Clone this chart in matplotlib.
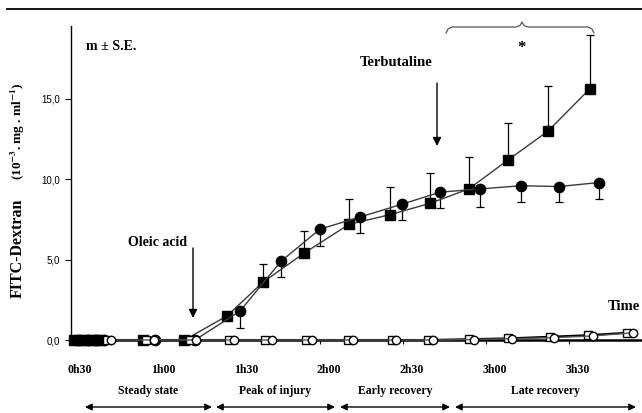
import matplotlib
matplotlib.use("Agg")
import matplotlib.pyplot as plt
from matplotlib.transforms import ScaledTranslation
import numpy as np

plt.rcParams['mathtext.fontset'] = 'stix'
SERIF = 'Liberation Serif'
SANS = 'Liberation Sans'

# ---------------- data (time in minutes, FITC-Dextran in 10^-3 mg/ml) -------------
t_terb = [31, 33, 35, 37, 39, 41, 56, 71, 86.4, 99.4, 114.2, 130.5, 145.3, 159.7, 173.8, 187.9, 202.4, 217.6]
v_terb = [0, 0, 0, 0, 0, 0, 0, 0, 1.5, 3.6, 5.4, 7.2, 7.8, 8.5, 9.4, 11.2, 13.0, 15.65]
e_terb = [0, 0, 0, 0, 0, 0, 0, 0, 0, 1.1, 1.4, 1.55, 1.7, 1.9, 2.0, 2.3, 2.8, 3.35]

t_oleic = [33, 36, 39, 42, 60.4, 74.8, 91.1, 105.9, 120.0, 134.4, 149.6, 163.4, 177.8, 192.6, 206.4, 220.8]
v_oleic = [0, 0, 0, 0, 0, 0, 1.8, 4.9, 6.9, 7.65, 8.45, 9.2, 9.4, 9.6, 9.55, 9.8]
e_oleic = [0, 0, 0, 0, 0, 0, 1.05, 0.95, 1.05, 1.0, 1.0, 1.0, 1.1, 1.0, 0.95, 1.05]

t_ctrl_sq = [43, 57, 73, 87, 100, 115, 130, 146, 159, 174, 188, 203, 217, 231]
v_ctrl_sq = [0, 0, 0, 0, 0, 0, 0, 0, 0, 0.05, 0.1, 0.2, 0.3, 0.45]
t_ctrl_ci = [44.5, 60, 75, 89, 102.5, 117, 132, 147.5, 161, 175.5, 189.5, 204.5, 218.5, 233]
v_ctrl_ci = [0, 0, 0, 0, 0, 0, 0, 0, 0, 0.03, 0.08, 0.15, 0.25, 0.45]

tick_times = [30, 60, 90, 120, 150, 180, 210]
tick_labels = ['0h30', '1h00', '1h30', '2h00', '2h30', '3h00', '3h30']
y_ticks = [0, 5, 10, 15]
y_tick_labels = ['0,0', '5,0', '10,0', '15,0']

phases = ['Steady state', 'Peak of injury', 'Early recovery', 'Late recovery']

# ---------------- figure -------------
W, H = 642, 413
fig = plt.figure(figsize=(W / 100, H / 100), dpi=100)
ax = fig.add_axes([71 / W, 73 / H, 571 / W, 314 / H])
ax.set_xlim(30, 30 + 571 / 2.767)
ax.set_ylim(0, 314 / 16.07)

for s in ['top', 'right']:
    ax.spines[s].set_visible(False)
ax.spines['left'].set_linewidth(1.0)
ax.spines['bottom'].set_linewidth(1.8)

# filled series
ax.errorbar(t_terb, v_terb, yerr=[np.zeros(len(e_terb)), e_terb], fmt='-s', color='#3a3a3a',
            lw=1.0, ms=7.0, mfc='black', mec='black', ecolor='black', elinewidth=0.9,
            capsize=2.6, capthick=0.9, clip_on=False, zorder=4)
ax.errorbar(t_oleic, v_oleic, yerr=[e_oleic, np.zeros(len(e_oleic))], fmt='-o', color='#3a3a3a',
            lw=1.0, ms=7.4, mfc='black', mec='black', ecolor='black', elinewidth=0.9,
            capsize=2.6, capthick=0.9, clip_on=False, zorder=4)
# controls
ax.plot(t_ctrl_sq, v_ctrl_sq, '-s', color='black', lw=1.5, ms=5.8, mfc='white', mec='black',
        mew=1.0, clip_on=False, zorder=5)
ax.plot(t_ctrl_ci, v_ctrl_ci, '-o', color='#555555', lw=1.0, ms=6.0, mfc='white', mec='black',
        mew=1.0, clip_on=False, zorder=5)

ax.set_yticks(y_ticks)
ax.set_yticklabels(y_tick_labels, fontfamily=SANS, fontsize=7)
ax.tick_params(axis='y', direction='out', length=4, width=0.8, pad=4)
ax.set_xticks(tick_times)
ax.set_xticklabels(tick_labels, fontfamily=SERIF, fontweight='bold', fontsize=8.5)
ax.tick_params(axis='x', direction='out', length=3, width=0.8, pad=14)
off = ScaledTranslation(9 / 100, 0, fig.dpi_scale_trans)
for lab in ax.get_xticklabels():
    lab.set_transform(lab.get_transform() + off)

# ---------------- annotations (figure pixel coords, origin top-left) -------------
def P(x, y):
    return (x / W, 1 - y / H)

def ftext(x, y, s, **kw):
    fig.text(x / W, 1 - y / H, s, **kw)

ftext(86, 47, 'm ± S.E.', fontfamily=SERIF, fontweight='bold', fontsize=10, va='center', ha='left')
ftext(396, 62, 'Terbutaline', fontfamily=SERIF, fontweight='bold', fontsize=10.5, va='center', ha='center')
ftext(158, 242, 'Oleic acid', fontfamily=SERIF, fontweight='bold', fontsize=10, va='center', ha='center')
ftext(640, 306, 'Time', fontfamily=SERIF, fontweight='bold', fontsize=10.5, va='center', ha='right')
ftext(522, 48, '*', fontfamily=SERIF, fontweight='bold', fontsize=12, va='center', ha='center')

# y label
ftext(18, 248, 'FITC-Dextran', fontfamily=SERIF, fontweight='bold', fontsize=11.5,
      rotation=90, va='center', ha='center')
ftext(18, 131, r'(10$^{\mathbf{-3}}$. mg . ml$^{\mathbf{-1}}$)', fontfamily=SERIF, fontweight='bold',
      fontsize=9.5, rotation=90, va='center', ha='center')

# arrows for interventions
for x, y0, y1 in [(437, 83, 146), (193, 248, 318)]:
    fig.add_artist(matplotlib.patches.FancyArrowPatch(P(x, y0), P(x, y1), transform=fig.transFigure,
                   arrowstyle='-|>,head_length=5,head_width=2.5', lw=1.0, color='black',
                   shrinkA=0, shrinkB=0))

# brace
bx = [446, 448, 452, 516, 520, 522, 524, 528, 588, 592, 594]
by = [33, 29, 27, 27, 25.5, 22, 25.5, 27, 27, 29, 33]
fig.add_artist(matplotlib.lines.Line2D([x / W for x in bx], [1 - y / H for y in by],
                                       transform=fig.transFigure, color='#555555', lw=0.9))

# top rule
fig.add_artist(matplotlib.lines.Line2D([7 / W, 1], [1 - 9 / H, 1 - 9 / H],
                                       transform=fig.transFigure, color='black', lw=1.3))

# phase labels and double arrows
spans = [(85, 212), (216, 335), (340, 450), (455, 636)]
for name, (a, b) in zip(phases, spans):
    ftext((a + b) / 2, 391, name, fontfamily=SERIF, fontweight='bold', fontsize=8.5,
          va='center', ha='center')
    fig.add_artist(matplotlib.patches.FancyArrowPatch(P(a, 407), P(b, 407), transform=fig.transFigure,
                   arrowstyle='<|-|>,head_length=4,head_width=2', lw=1.0, color='black',
                   shrinkA=0, shrinkB=0))

fig.savefig('out.png', dpi=100)
